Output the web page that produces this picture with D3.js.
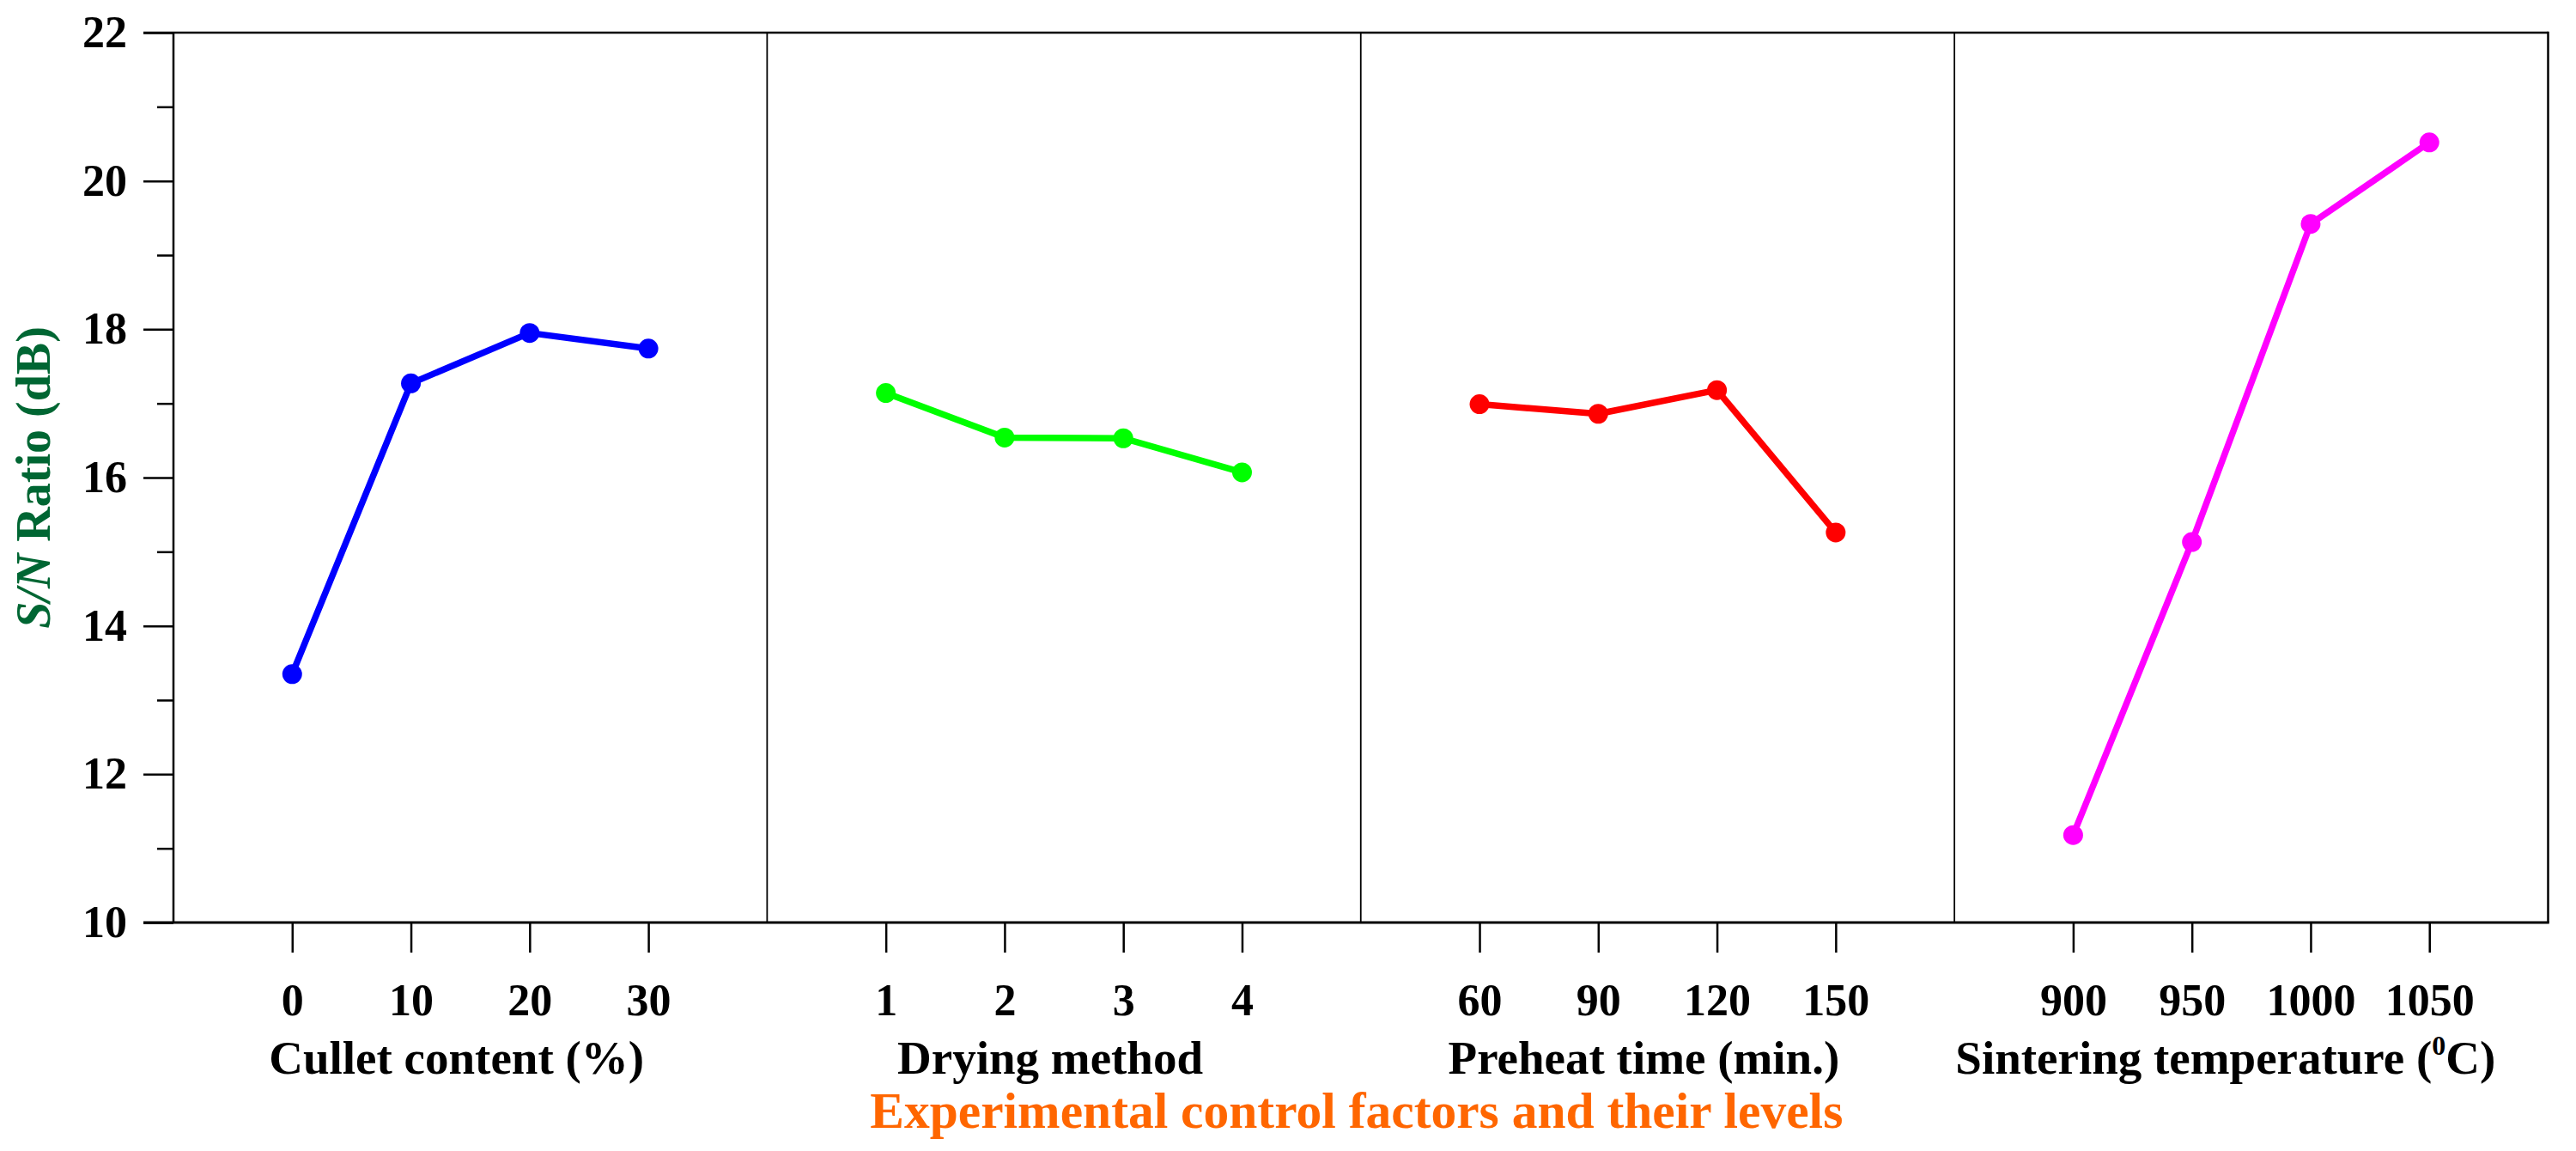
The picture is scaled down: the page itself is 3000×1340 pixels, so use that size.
<!DOCTYPE html>
<html>
<head>
<meta charset="utf-8">
<script src="https://cdn.jsdelivr.net/npm/d3@7"></script>
<style>
  html, body { margin: 0; padding: 0; background: #fff; }
  svg { display: block; font-family: "Liberation Serif", "DejaVu Serif", serif; font-weight: bold; }
</style>
</head>
<body>
<svg id="chart" width="3000" height="1340"></svg>
<script>
// ---- data ----
const factorTitles = ["Cullet content (%)", "Drying method", "Preheat time (min.)", "Sintering temperature (^0C)"];
const culletLevels = ["0", "10", "20", "30"];
const culletSN = [13.35, 17.27, 17.95, 17.74];
const dryingLevels = ["1", "2", "3", "4"];
const dryingSN = [17.14, 16.54, 16.53, 16.07];
const preheatLevels = ["60", "90", "120", "150"];
const preheatSN = [16.99, 16.86, 17.18, 15.26];
const sinterLevels = ["900", "950", "1000", "1050"];
const sinterSN = [11.18, 15.13, 19.42, 20.52];
const seriesColors = ["#0000FF", "#00FF00", "#FF0000", "#FF00FF"];
const yMajorTicks = [10, 12, 14, 16, 18, 20, 22];
const yMinorTicks = [11, 13, 15, 17, 19, 21];
const yTitle = ["S/N", " Ratio (dB)"];
const xTitle = "Experimental control factors and their levels";

const panels = [
  { title: factorTitles[0], levels: culletLevels, values: culletSN, color: seriesColors[0] },
  { title: factorTitles[1], levels: dryingLevels, values: dryingSN, color: seriesColors[1] },
  { title: factorTitles[2], levels: preheatLevels, values: preheatSN, color: seriesColors[2] },
  { title: factorTitles[3], levels: sinterLevels, values: sinterSN, color: seriesColors[3] }
];

// ---- layout ----
const mLeft = 202, mRight = 2967.5, mTop = 38, mBottom = 1074;
const svg = d3.select("#chart");

const y = d3.scaleLinear().domain([10, 22]).range([mBottom, mTop]);
const xPanel = d3.scaleBand().domain(d3.range(panels.length)).range([mLeft, mRight]).padding(0);

// y axis (major)
const yAxisG = svg.append("g").attr("transform", `translate(${mLeft},0)`)
  .call(d3.axisLeft(y).tickValues(yMajorTicks).tickSize(35).tickPadding(19).tickFormat(d3.format("d")));
yAxisG.select(".domain").remove();
yAxisG.selectAll(".tick line").attr("stroke", "#000").attr("stroke-width", 2.5);
yAxisG.selectAll(".tick text").attr("font-size", 52).attr("fill", "#000")
  .attr("font-family", "Liberation Serif").attr("font-weight", "bold");

// y axis (minor)
const yMinorG = svg.append("g").attr("transform", `translate(${mLeft},0)`)
  .call(d3.axisLeft(y).tickValues(yMinorTicks).tickSize(19).tickFormat(""));
yMinorG.select(".domain").remove();
yMinorG.selectAll(".tick line").attr("stroke", "#000").attr("stroke-width", 2.5);

// panels
panels.forEach((p, i) => {
  const x0 = xPanel(i), x1 = x0 + xPanel.bandwidth();
  const x = d3.scaleLinear().domain([0, 5]).range([x0, x1]);

  const g = svg.append("g").attr("transform", `translate(0,${mBottom})`)
    .call(d3.axisBottom(x).tickValues([1, 2, 3, 4]).tickSize(35).tickFormat(d => p.levels[d - 1]));
  g.select(".domain").remove();
  g.selectAll(".tick line").attr("stroke", "#000").attr("stroke-width", 2.5);
  g.selectAll(".tick text").attr("font-size", 52).attr("fill", "#000")
    .attr("font-family", "Liberation Serif").attr("font-weight", "bold")
    .attr("y", 108).attr("dy", 0);

  // divider
  if (i > 0) {
    svg.append("line").attr("x1", x0).attr("x2", x0).attr("y1", mTop).attr("y2", mBottom)
      .attr("stroke", "#000").attr("stroke-width", 1.8);
  }

  // factor title
  const parts = p.title.split("^");
  const shift = parts.length > 1 ? -30 : -16;
  const t = svg.append("text").attr("x", (x0 + x1) / 2 + shift).attr("y", mBottom + 176)
    .attr("text-anchor", "middle").attr("font-size", 55).attr("fill", "#000");
  t.append("tspan").text(parts[0]);
  if (parts.length > 1) {
    t.append("tspan").attr("font-size", 32).attr("dy", -22).text(parts[1][0]);
    t.append("tspan").attr("dy", 22).text(parts[1].slice(1));
  }

  // line + markers
  const pts = p.values.map((v, k) => [x(k + 1), y(v)]);
  svg.append("path").datum(pts)
    .attr("d", d3.line())
    .attr("fill", "none").attr("stroke", p.color).attr("stroke-width", 7.5)
    .attr("stroke-linejoin", "round");
  svg.selectAll(null).data(pts).enter().append("circle")
    .attr("cx", d => d[0]).attr("cy", d => d[1]).attr("r", 11.5).attr("fill", p.color);
});

// frame
svg.append("line").attr("x1", mLeft - 35).attr("x2", mRight).attr("y1", mTop).attr("y2", mTop)
  .attr("stroke", "#000").attr("stroke-width", 2.5);
svg.append("line").attr("x1", mLeft - 35).attr("x2", mRight + 1.25).attr("y1", mBottom).attr("y2", mBottom)
  .attr("stroke", "#000").attr("stroke-width", 3);
svg.append("line").attr("x1", mLeft).attr("x2", mLeft).attr("y1", mTop).attr("y2", mBottom)
  .attr("stroke", "#000").attr("stroke-width", 2.5);
svg.append("line").attr("x1", mRight).attr("x2", mRight).attr("y1", mTop - 1.25).attr("y2", mBottom)
  .attr("stroke", "#000").attr("stroke-width", 2.5);

// y title
const yt = svg.append("text")
  .attr("transform", `translate(58,${(mTop + mBottom) / 2}) rotate(-90)`)
  .attr("text-anchor", "middle").attr("font-size", 56).attr("fill", "#006633");
yt.append("tspan").attr("font-style", "italic").text(yTitle[0]);
yt.append("tspan").text(yTitle[1]);

// overall x title
svg.append("text").attr("x", (mLeft + mRight) / 2 - 5).attr("y", mBottom + 239)
  .attr("text-anchor", "middle").attr("font-size", 59.5).attr("fill", "#FF6600").text(xTitle);
</script>
</body>
</html>
